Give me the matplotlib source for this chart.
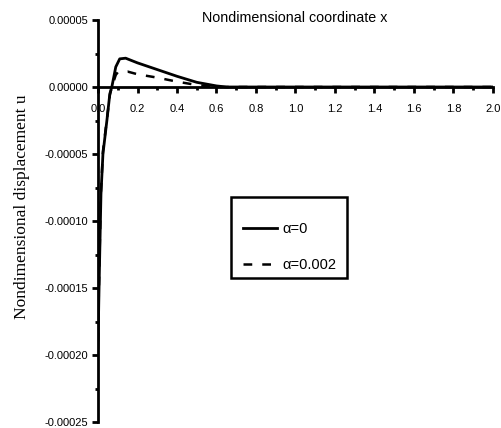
import matplotlib
matplotlib.use("Agg")
import matplotlib.pyplot as plt
import numpy as np
from matplotlib.ticker import MultipleLocator
from matplotlib.patches import Rectangle

# Data
x_a0 = [0.0, 0.004, 0.008, 0.015, 0.025, 0.045, 0.06, 0.07, 0.09, 0.11, 0.14,
        0.2, 0.3, 0.4, 0.5, 0.6, 0.65, 2.0]
u_a0 = [-0.000195, -0.00016, -0.00013, -0.00008, -0.00005, -0.000025, -0.000005,
        0.0, 0.000015, 0.000021, 0.0000215, 0.000018, 0.000013, 0.000008,
        0.0000035, 0.0000008, 0.0, 0.0]

x_a2 = [0.0, 0.004, 0.008, 0.015, 0.025, 0.045, 0.06, 0.07, 0.09, 0.1, 0.15,
        0.2, 0.3, 0.4, 0.5, 0.6, 2.0]
u_a2 = [-0.00019, -0.000155, -0.000125, -0.000078, -0.000048, -0.000024, -0.000006,
        0.0, 0.000009, 0.000011, 0.0000115, 0.0000095, 0.000007, 0.000004,
        0.0000015, 0.0, 0.0]

labels = ["\u03b1=0", "\u03b1=0.002"]
xticks = [0.0, 0.2, 0.4, 0.6, 0.8, 1.0, 1.2, 1.4, 1.6, 1.8, 2.0]
yticks = [-0.00025, -0.00020, -0.00015, -0.00010, -0.00005, 0.0, 0.00005]

W, H = 502, 428
fig = plt.figure(figsize=(W/100, H/100), dpi=100)
ax = fig.add_axes([98/W, 1-422/H, (493-98)/W, (422-20)/H])

ax.plot(x_a0, u_a0, color="black", lw=2.0, ls="-", label=labels[0])
ax.plot(x_a2, u_a2, color="black", lw=1.8, ls=(0, (3.5, 4)), label=labels[1])

ax.set_xlim(0, 2.0)
ax.set_ylim(-0.00025, 0.00005)

for s in ["top", "right"]:
    ax.spines[s].set_visible(False)
ax.spines["bottom"].set_position(("data", 0))
ax.spines["left"].set_linewidth(2)
ax.spines["bottom"].set_linewidth(2)

ax.set_xticks(xticks)
ax.set_xticklabels([f"{v:.1f}" for v in xticks])
ax.set_yticks(yticks)
ax.set_yticklabels([f"{v:.5f}" for v in yticks])
ax.xaxis.set_minor_locator(MultipleLocator(0.1))
ax.yaxis.set_minor_locator(MultipleLocator(0.000025))

ax.tick_params(axis="both", which="major", direction="out", length=4, width=2,
               labelsize=8)
ax.tick_params(axis="both", which="minor", direction="out", length=2.5, width=2)
ax.tick_params(axis="x", which="major", pad=8)
ax.tick_params(axis="y", which="major", pad=3)
for t in ax.get_xticklabels() + ax.get_yticklabels():
    t.set_family("Liberation Sans")

fig.text(295/W, 1-18/H, "Nondimensional coordinate x", ha="center",
         va="center", fontsize=10.3, family="Liberation Sans")
fig.text(22/W, 1-207/H, "Nondimensional displacement u", ha="center",
         va="center", rotation=90, fontsize=12.5, family="Liberation Serif")

# legend: entries without frame, frame drawn as a rectangle
leg = ax.legend(loc="upper left", bbox_to_anchor=(243/W, 1-222/H),
                bbox_transform=fig.transFigure,
                frameon=False, handlelength=2.3, handletextpad=0.4,
                borderpad=0, labelspacing=1.5, borderaxespad=0,
                prop={"family": "Liberation Sans", "size": 10.5})
fig.patches.append(Rectangle((231/W, 1-278/H), (347-231)/W, (278-197)/H,
                             transform=fig.transFigure, fill=False,
                             edgecolor="black", linewidth=1.8, zorder=5))

fig.savefig("out.png", dpi=100)
